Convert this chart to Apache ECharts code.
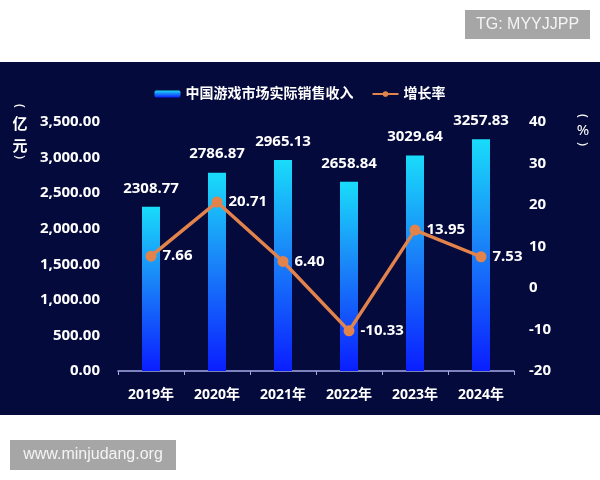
<!DOCTYPE html>
<html lang="zh">
<head>
    <meta charset="UTF-8">
    <title>中国游戏市场实际销售收入</title>
    <style>
        html, body { margin: 0; padding: 0; background: #ffffff; }
        .chart { width: 600px; height: 480px; }
    </style>
</head>
<body>
<div class="chart" id="showData"></div>
<script src="https://cdn.jsdelivr.net/npm/echarts@6/dist/echarts.min.js"></script>
<script>
    var years = ['2019年', '2020年', '2021年', '2022年', '2023年', '2024年'];
    var revenue = [2308.77, 2786.87, 2965.13, 2658.84, 3029.64, 3257.83];
    var growth = [7.66, 20.71, 6.40, -10.33, 13.95, 7.53];
    var leftTicks = [0, 3500, 500];   // min, max, interval
    var rightTicks = [-20, 40, 10];

    var font = "'Noto Sans', 'Noto Sans CJK SC', sans-serif";

    function money(v) {
        return v.toLocaleString('en-US', {minimumFractionDigits: 2, maximumFractionDigits: 2});
    }

    // a paren turned on its side, for the vertical unit labels
    function paren(ch, x, y) {
        return {
            type: 'text', x: x, y: y, rotation: -Math.PI / 2,
            style: { text: ch, fill: '#ffffff', font: "13px 'Noto Sans'", align: 'center', verticalAlign: 'middle' }
        };
    }

    var mychart = echarts.init(document.getElementById('showData'));

    var option = {
        backgroundColor: '#ffffff',
        textStyle: { fontFamily: font },
        graphic: [
            // dark panel
            { type: 'rect', z: -10, shape: { x: 0, y: 62, width: 600, height: 353 }, style: { fill: '#050a3c' } },
            // watermarks
            { type: 'rect', z: 10, shape: { x: 465, y: 10, width: 125, height: 29 }, style: { fill: '#a6a6a6' } },
            { type: 'text', z: 11, x: 527.5, y: 25, style: { text: 'TG: MYYJJPP', fill: '#f4f4f4', font: "16px 'Liberation Sans'", align: 'center', verticalAlign: 'middle' } },
            { type: 'rect', z: 10, shape: { x: 10, y: 440, width: 166, height: 30 }, style: { fill: '#a6a6a6' } },
            { type: 'text', z: 11, x: 93, y: 455, style: { text: 'www.minjudang.org', fill: '#f4f4f4', font: "16px 'Liberation Sans'", align: 'center', verticalAlign: 'middle' } },
            // unit labels
            paren('(', 20, 106),
            { type: 'text', x: 20, y: 123, style: { text: '亿', fill: '#ffffff', font: "bold 15px 'Noto Sans CJK SC'", align: 'center', verticalAlign: 'middle' } },
            { type: 'text', x: 20, y: 145, style: { text: '元', fill: '#ffffff', font: "bold 15px 'Noto Sans CJK SC'", align: 'center', verticalAlign: 'middle' } },
            paren(')', 20, 157),
            paren('(', 583, 116),
            { type: 'text', x: 583, y: 131, style: { text: '%', fill: '#ffffff', font: "15px 'Noto Sans'", align: 'center', verticalAlign: 'middle' } },
            paren(')', 583, 144)
        ],
        legend: {
            top: 82,
            left: 'center',
            itemGap: 18,
            itemWidth: 26,
            itemHeight: 7,
            textStyle: { color: '#ffffff', fontSize: 14, fontWeight: 'bold', fontFamily: font },
            data: ['中国游戏市场实际销售收入', '增长率']
        },
        grid: {
            left: 118,
            right: 86,
            top: 122,
            bottom: 109
        },
        xAxis: {
            type: 'category',
            data: years,
            axisLine: { lineStyle: { color: '#a3aae6', width: 1.5 } },
            axisTick: { show: true, length: 4, lineStyle: { color: '#a3aae6' } },
            axisLabel: { color: '#ffffff', fontSize: 14, fontWeight: 'bold', margin: 17, fontFamily: font }
        },
        yAxis: [
            {
                type: 'value',
                min: leftTicks[0],
                max: leftTicks[1],
                interval: leftTicks[2],
                splitLine: { show: false },
                axisLine: { show: false },
                axisTick: { show: false },
                axisLabel: { color: '#ffffff', fontSize: 15, fontWeight: 'bold', margin: 18, fontFamily: font, formatter: money }
            },
            {
                type: 'value',
                min: rightTicks[0],
                max: rightTicks[1],
                interval: rightTicks[2],
                splitLine: { show: false },
                axisLine: { show: false },
                axisTick: { show: false },
                axisLabel: { color: '#ffffff', fontSize: 15, fontWeight: 'bold', margin: 15, fontFamily: font }
            }
        ],
        series: [
            {
                name: '中国游戏市场实际销售收入',
                type: 'bar',
                barWidth: 18,
                data: revenue,
                itemStyle: {
                    color: new echarts.graphic.LinearGradient(0, 0, 0, 1, [
                        { offset: 0, color: '#19dcfa' },
                        { offset: 0.45, color: '#1a84f8' },
                        { offset: 1, color: '#0a1eff' }
                    ])
                },
                label: {
                    show: true,
                    position: 'top',
                    distance: 11,
                    color: '#ffffff',
                    fontSize: 15,
                    fontWeight: 'bold',
                    fontFamily: font
                }
            },
            {
                name: '增长率',
                type: 'line',
                yAxisIndex: 1,
                data: growth,
                symbol: 'circle',
                symbolSize: 11,
                lineStyle: { color: '#e2834c', width: 3.5 },
                itemStyle: { color: '#e2834c' },
                label: {
                    show: true,
                    position: 'right',
                    distance: 6,
                    color: '#ffffff',
                    fontSize: 15,
                    fontWeight: 'bold',
                    fontFamily: font,
                    formatter: function (p) { return p.value.toFixed(2); }
                }
            }
        ]
    };

    mychart.setOption(option);
</script>
</body>
</html>
